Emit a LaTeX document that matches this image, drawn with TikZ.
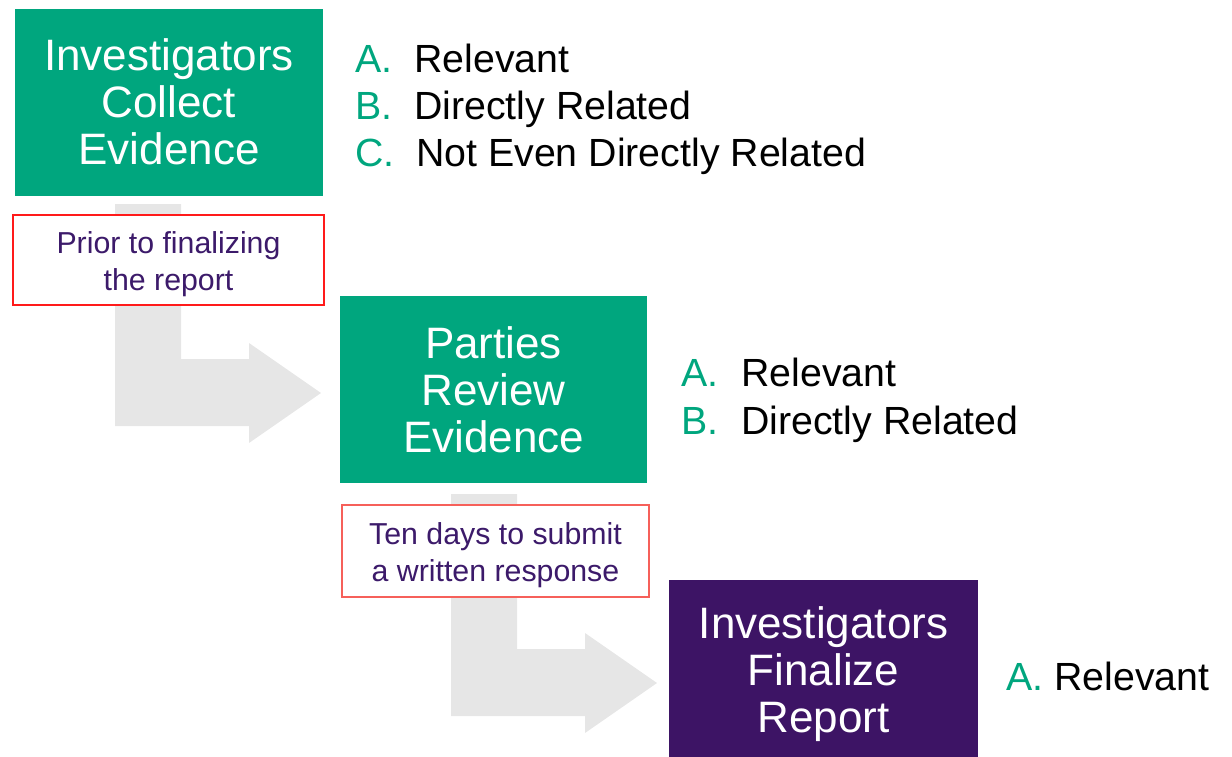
\documentclass[tikz,border=0pt]{standalone}
\usepackage{fontspec}
\setmainfont{Liberation Sans}
\definecolor{tgreen}{HTML}{00A67E}
\definecolor{tpurple}{HTML}{3D1465}
\definecolor{ttext}{HTML}{3C1A6A}
\definecolor{tgray}{HTML}{E6E6E6}
\definecolor{tred}{HTML}{FF1A1A}
\definecolor{tsalmon}{HTML}{F6605A}
\tikzset{
  stepbox/.style={rectangle, inner sep=0pt, minimum width=308pt},
  steptext/.style={inner sep=0pt, text=white, align=center, font=\fontsize{44}{47}\selectfont},
  notebox/.style={rectangle, draw, line width=1.6pt, fill=white, inner sep=0pt},
  notetext/.style={inner sep=0pt, text=ttext, align=center, font=\fontsize{30.3}{37}\selectfont},
  bent/.style={fill=tgray, draw=none},
  letter/.style={anchor=base west, inner sep=0pt, text=tgreen, font=\fontsize{39.3}{47}\selectfont},
  item/.style={anchor=base west, inner sep=0pt, text=black, font=\fontsize{39.3}{47}\selectfont},
}
\begin{document}
\begin{tikzpicture}[x=1pt,y=-1pt]
\useasboundingbox (0,0) rectangle (1232,757);
% bent arrows
\fill[bent] (115,204) -- (181,204) -- (181,359) -- (249,359) -- (249,343) -- (321,393) -- (249,443) -- (249,426) -- (115,426) -- cycle;
\fill[bent] (451,494) -- (517,494) -- (517,649) -- (585,649) -- (585,633) -- (657,683) -- (585,733) -- (585,716) -- (451,716) -- cycle;
% step boxes
\node[stepbox, fill=tgreen, minimum height=187pt] (b1) at (169,102.5) {};
\node[steptext] (b1t) at ([yshift=1pt]b1.center) {Investigators\\Collect\\Evidence};
\node[stepbox, fill=tgreen, minimum height=187pt, minimum width=307pt] (b2) at (493.5,389.5) {};
\node[steptext] (b2t) at ([yshift=-0.5pt]b2.center) {Parties\\Review\\Evidence};
\node[stepbox, fill=tpurple, minimum height=177pt, minimum width=309pt] (b3) at (823.5,668.5) {};
\node[steptext] (b3t) at ([yshift=-5.5pt]b3.center) {Investigators\\Finalize\\Report};
% notes
\node[notebox, draw=tred, minimum width=311pt, minimum height=90pt] (n1) at (168.5,260) {};
\node[notetext] (n1t) at ([yshift=-4pt]n1.center) {Prior to finalizing\\the report};
\node[notebox, draw=tsalmon, minimum width=307pt, minimum height=92pt] (n2) at (495.5,551) {};
\node[notetext] (n2t) at ([yshift=-4pt]n2.center) {Ten days to submit\\a written response};
% lists
\node[letter] (l1a) at (355,73) {A.};
\node[item] (t1a) at (414,73) {Relevant};
\node[letter] (l1b) at (355,120) {B.};
\node[item] (t1b) at (414,120) {Directly Related};
\node[letter] (l1c) at (355,167) {C.};
\node[item] (t1c) at (416,167) {Not Even Directly Related};
\node[letter] (l2a) at (681,386) {A.};
\node[item] (t2a) at (741,386) {Relevant};
\node[letter] (l2b) at (681,434) {B.};
\node[item] (t2b) at (741,434) {Directly Related};
\node[letter] (l3a) at (1006,690) {A.};
\node[item] (t3a) at (1054,690) {Relevant};
\end{tikzpicture}
\end{document}
